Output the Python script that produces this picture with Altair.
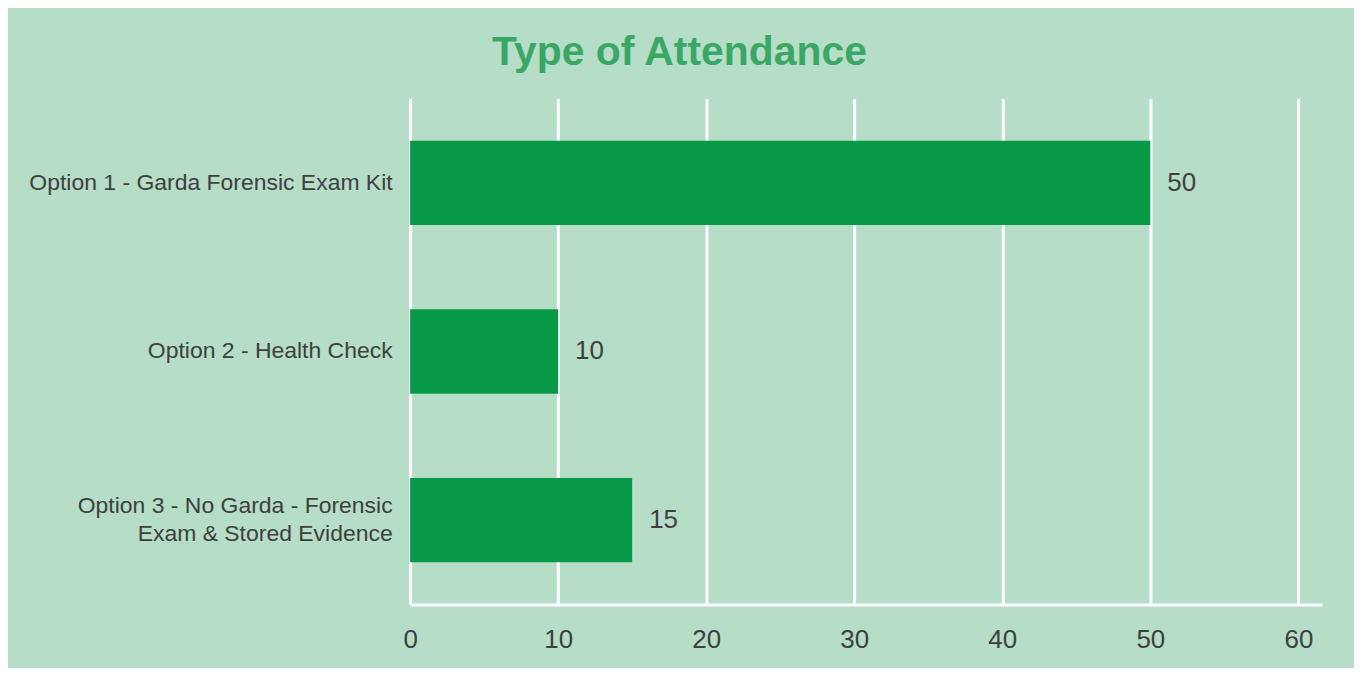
import altair as alt
import pandas as pd

categories = [
    "Option 1 - Garda Forensic Exam Kit",
    "Option 2 - Health Check",
    "Option 3 - No Garda - Forensic|Exam & Stored Evidence",
]
values = [50, 10, 15]
tick_values = [0, 10, 20, 30, 40, 50, 60]

df = pd.DataFrame({"category": categories, "value": values})

BG = "#b5ddc7"
BAR = "#089948"
TXT = "#3f3f3f"
FONT = "Liberation Sans"

y_enc = alt.Y(
    "category:N",
    sort=categories,
    title=None,
    scale=alt.Scale(paddingInner=0.5, paddingOuter=0.25),
    axis=alt.Axis(
        domain=False, ticks=False, grid=False,
        labelExpr="split(datum.label, '|')",
        labelFont=FONT, labelFontSize=23, labelColor=TXT,
        labelPadding=18, labelLineHeight=28, labelLimit=420,
        labelOffset={"condition": {"test": "indexof(datum.value, '|') >= 0", "value": -14}, "value": 0},
    ),
)
x_enc = alt.X(
    "value:Q",
    title=None,
    scale=alt.Scale(domain=[0, 61.6], nice=False),
    axis=alt.Axis(
        values=tick_values, grid=True, gridColor="white", gridWidth=3,
        gridOpacity=1, domain=True, domainColor="white", domainWidth=3,
        ticks=False, labelFont=FONT, labelFontSize=26, labelColor=TXT,
        labelPadding=22, labelFlush=False,
    ),
)

bars = alt.Chart(df).mark_bar(color=BAR).encode(x=x_enc, y=y_enc)
labels = alt.Chart(df).mark_text(
    align="left", baseline="middle", dx=17, font=FONT, fontSize=26, color=TXT
).encode(x="value:Q", y=alt.Y("category:N", sort=categories), text="value:Q")

chart = (
    alt.layer(bars, labels)
    .properties(
        width=914,
        height=507,
        autosize=alt.AutoSizeParams(type="none"),
        padding={"left": 403, "top": 90, "right": 32, "bottom": 63},
        background=BG,
        title=alt.TitleParams(
            "Type of Attendance", font=FONT, fontSize=41, fontWeight="bold",
            color="#3aa864", anchor="middle", dx=-187, offset=25,
        ),
    )
    .configure_view(stroke=None)
)

chart.save("out.html", embed_options={"renderer": "svg", "actions": False})
